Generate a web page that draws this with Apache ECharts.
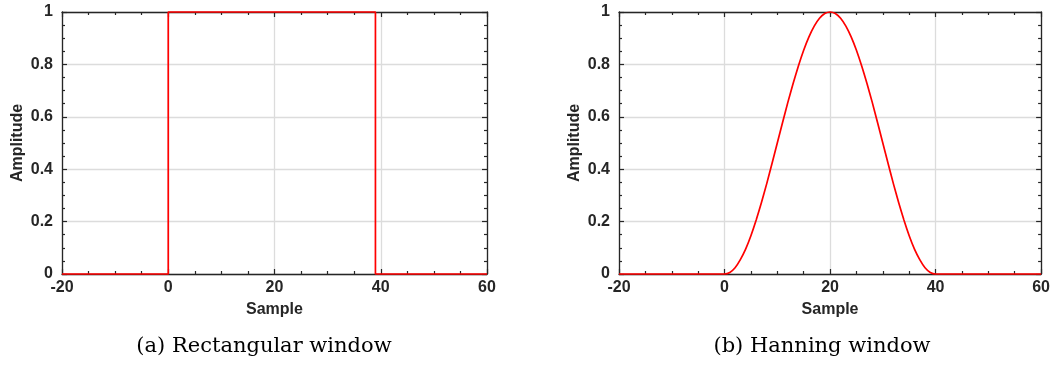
<!DOCTYPE html>
<html>
<head>
<meta charset="utf-8">
<script src="https://cdn.jsdelivr.net/npm/echarts@6/dist/echarts.min.js"></script>
<style>
  html, body { margin: 0; padding: 0; background: #fff; }
  #chart { width: 1053px; height: 367px; }
</style>
</head>
<body>
<div id="chart"></div>
<script>
// rectangular window outline (x, y)
const rectX = [-20, 0, 0, 39, 39, 60]
const rectY = [0, 0, 1, 1, 0, 0]

// hanning window, samples -20 .. 60 (non-zero between 0 and 40)
const hannX = [-20, 0, 1, 2, 3, 4, 5, 6, 7, 8, 9, 10, 11, 12, 13, 14, 15, 16, 17, 18, 19, 20,
  21, 22, 23, 24, 25, 26, 27, 28, 29, 30, 31, 32, 33, 34, 35, 36, 37, 38, 39, 40, 60]
const hannY = [0, 0, 0.006, 0.024, 0.055, 0.095, 0.146, 0.206, 0.273, 0.345, 0.422, 0.5,
  0.578, 0.655, 0.727, 0.794, 0.854, 0.905, 0.946, 0.976, 0.994, 1,
  0.994, 0.976, 0.946, 0.905, 0.854, 0.794, 0.727, 0.655, 0.578, 0.5,
  0.422, 0.345, 0.273, 0.206, 0.146, 0.095, 0.055, 0.024, 0.006, 0, 0]

const xTicks = { min: -20, max: 60, interval: 20 }
const yTicks = { min: 0, max: 1, interval: 0.2 }
const captions = ['(a) Rectangular window', '(b) Hanning window']

const TEXT = '#262626'
const GRIDLINE = '#dcdcdc'
const FONT = '"Liberation Sans", Arial, sans-serif'

const chart = echarts.init(document.getElementById('chart'))

const grids = [
  { left: 62, top: 12, width: 425, height: 262 },
  { left: 619, top: 12, width: 425, height: 262 }
]

function xAxisFor(gridIndex, main) {
  return {
    type: 'value',
    gridIndex: gridIndex,
    position: main ? 'bottom' : 'top',
    min: xTicks.min,
    max: xTicks.max,
    interval: xTicks.interval,
    name: main ? 'Sample' : '',
    nameLocation: 'middle',
    nameGap: 28,
    nameTextStyle: { color: TEXT, fontWeight: 'bold', fontSize: 16, fontFamily: FONT },
    axisLine: { show: true, onZero: false, lineStyle: { color: TEXT, width: 1.3 } },
    axisTick: { show: true, inside: true, length: 5, lineStyle: { color: TEXT, width: 1.2 } },
    minorTick: { show: true, splitNumber: 4, length: 3, lineStyle: { color: TEXT, width: 1.2 } },
    axisLabel: {
      show: main, margin: 6, color: TEXT, fontWeight: 'bold', fontSize: 16, fontFamily: FONT,
      showMinLabel: true, showMaxLabel: true
    },
    splitLine: { show: main, lineStyle: { color: GRIDLINE, width: 1.3 } },
    minorSplitLine: { show: false }
  }
}

function yAxisFor(gridIndex, main) {
  return {
    type: 'value',
    gridIndex: gridIndex,
    position: main ? 'left' : 'right',
    min: yTicks.min,
    max: yTicks.max,
    interval: yTicks.interval,
    name: main ? 'Amplitude' : '',
    nameLocation: 'middle',
    nameGap: 36,
    nameTextStyle: { color: TEXT, fontWeight: 'bold', fontSize: 16, fontFamily: FONT },
    axisLine: { show: true, onZero: false, lineStyle: { color: TEXT, width: 1.3 } },
    axisTick: { show: true, inside: true, length: 5, lineStyle: { color: TEXT, width: 1.2 } },
    minorTick: { show: true, splitNumber: 4, length: 3, lineStyle: { color: TEXT, width: 1.2 } },
    axisLabel: {
      show: main, margin: 9, color: TEXT, fontWeight: 'bold', fontSize: 16, fontFamily: FONT,
      showMinLabel: true, showMaxLabel: true
    },
    splitLine: { show: main, lineStyle: { color: GRIDLINE, width: 1.3 } },
    minorSplitLine: { show: false }
  }
}

function pairs(xs, ys) {
  return xs.map((x, i) => [x, ys[i]])
}

const option = {
  animation: false,
  backgroundColor: '#fff',
  grid: grids,
  xAxis: [xAxisFor(0, true), xAxisFor(0, false), xAxisFor(1, true), xAxisFor(1, false)],
  yAxis: [yAxisFor(0, true), yAxisFor(0, false), yAxisFor(1, true), yAxisFor(1, false)],
  series: [
    {
      type: 'line',
      xAxisIndex: 0,
      yAxisIndex: 0,
      data: pairs(rectX, rectY),
      showSymbol: false,
      clip: false,
      lineStyle: { color: '#ff0000', width: 1.7 },
      z: 5
    },
    {
      type: 'line',
      xAxisIndex: 2,
      yAxisIndex: 2,
      data: pairs(hannX, hannY),
      showSymbol: false,
      smooth: 0.2,
      clip: false,
      lineStyle: { color: '#ff0000', width: 1.7 },
      z: 5
    }
  ],
  graphic: captions.map((t, i) => ({
    type: 'text',
    x: i === 0 ? 264 : 822,
    y: 347,
    style: {
      text: t,
      fill: '#000',
      font: '21px "DejaVu Serif", serif',
      textAlign: 'center',
      textVerticalAlign: 'middle'
    }
  }))
}

chart.setOption(option)
window.addEventListener('resize', () => chart.resize())
</script>
</body>
</html>
